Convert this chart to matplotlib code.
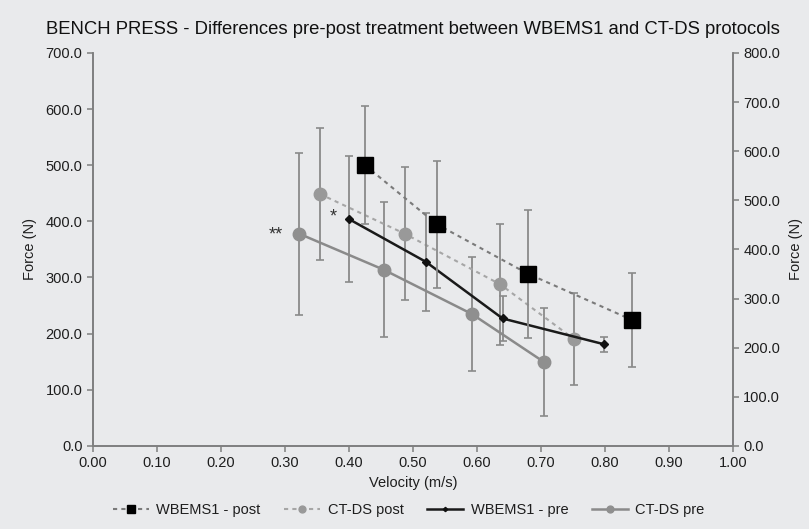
import matplotlib.pyplot as plt
from matplotlib.lines import Line2D

plt.rcParams['font.family'] = ['Liberation Sans', 'DejaVu Sans']

# velocity (m/s) and force (N)
wb_post_x = [0.425, 0.537, 0.679, 0.843]
wb_post_y = [500, 395, 307, 224]
wb_post_err = [105, 113, 114, 84]

ct_post_x = [0.354, 0.487, 0.636, 0.752]
ct_post_y = [449, 378, 288, 190]
ct_post_err = [118, 118, 108, 82]

wb_pre_x = [0.400, 0.520, 0.640, 0.799]
wb_pre_y = [404, 328, 227, 181]
wb_pre_err = [112, 87, 40, 13]

ct_pre_x = [0.322, 0.454, 0.592, 0.704]
ct_pre_y = [378, 314, 235, 150]
ct_pre_err = [144, 120, 102, 96]

bg = '#e9eaec'
axis_col = '#7f7f7f'
txt = '#1e1e1e'

fig = plt.figure(figsize=(8.09, 5.29), dpi=100, facecolor=bg)
ax = fig.add_axes([0.115, 0.157, 0.791, 0.743], facecolor=bg)

ekw = dict(ecolor='#8a8a8a', elinewidth=1.3, capsize=3, capthick=1.2)

styles = {
    'CT-DS pre': dict(color='#8a8a8a', lw=1.8, ls='-', marker='o', ms=9, mfc='#8f8f8f', mec='#8f8f8f'),
    'CT-DS post': dict(color='#a6a6a6', lw=1.5, ls=(0, (2, 2)), marker='o', ms=9, mfc='#999999', mec='#999999'),
    'WBEMS1 - pre': dict(color='#1a1a1a', lw=1.8, ls='-', marker='D', ms=4, mfc='#111111', mec='#111111'),
    'WBEMS1 - post': dict(color='#7a7a7a', lw=1.5, ls=(0, (2, 2)), marker='s', ms=11, mfc='black', mec='black'),
}

ax.errorbar(ct_pre_x, ct_pre_y, yerr=ct_pre_err, zorder=3, **styles['CT-DS pre'], **ekw)
ax.errorbar(ct_post_x, ct_post_y, yerr=ct_post_err, zorder=3, **styles['CT-DS post'], **ekw)
ax.errorbar(wb_pre_x, wb_pre_y, yerr=wb_pre_err, zorder=4, **styles['WBEMS1 - pre'], **ekw)
ax.errorbar(wb_post_x, wb_post_y, yerr=wb_post_err, zorder=5, **styles['WBEMS1 - post'], **ekw)

ax.text(0.285, 375, '**', ha='center', va='center', fontsize=13, color='#333333')
ax.text(0.376, 408, '*', ha='center', va='center', fontsize=13, color='#333333')

ax.set_xlim(0, 1)
ax.set_ylim(0, 700)
ax.set_xticks([i / 10 for i in range(11)])
ax.set_xticklabels(['%.2f' % (i / 10) for i in range(11)])
ax.set_yticks(range(0, 701, 100))
ax.set_yticklabels(['%.1f' % v for v in range(0, 701, 100)])

ax2 = ax.twinx()
ax2.set_ylim(0, 800)
ax2.set_yticks(range(0, 801, 100))
ax2.set_yticklabels(['%.1f' % v for v in range(0, 801, 100)])

for a in (ax, ax2):
    a.spines['top'].set_visible(False)
    for s in ('left', 'right', 'bottom'):
        a.spines[s].set_color(axis_col)
        a.spines[s].set_linewidth(1.2)
    a.tick_params(colors=axis_col, labelcolor=txt, labelsize=10.5, length=4, width=1.1)

ax.set_xlabel('Velocity (m/s)', fontsize=10.5, color=txt, labelpad=4)
ax.set_ylabel('Force (N)', fontsize=10.5, color=txt, labelpad=6)
ax2.set_ylabel('Force (N)', fontsize=10.5, color=txt, rotation=90, labelpad=6)

fig.text(0.51, 0.945, 'BENCH PRESS - Differences pre-post treatment between WBEMS1 and CT-DS protocols',
         ha='center', va='center', fontsize=13.3, color='#111111')

order = ['WBEMS1 - post', 'CT-DS post', 'WBEMS1 - pre', 'CT-DS pre']
handles = []
for name in order:
    st = dict(styles[name])
    st['ms'] = st['ms'] * 0.55
    handles.append(Line2D([], [], **st))
leg = fig.legend(handles, order, loc='center', ncol=4,
                 bbox_to_anchor=(0.505, 0.035), frameon=False, fontsize=10.5,
                 handlelength=2.5, columnspacing=1.6, handletextpad=0.5)
for t in leg.get_texts():
    t.set_color(txt)

fig.savefig('out.png', dpi=100, facecolor=bg)
